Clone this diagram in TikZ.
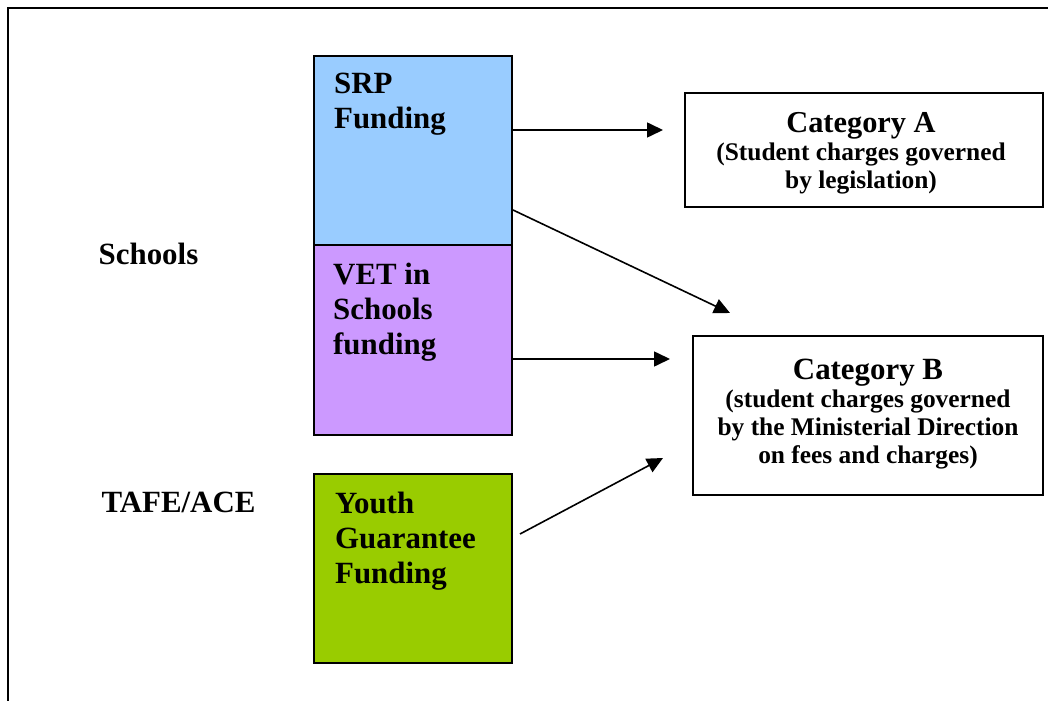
\documentclass[tikz,border=0pt]{standalone}
\usepackage{fontspec}
\setmainfont{Liberation Serif}
\usetikzlibrary{arrows.meta,calc}
\definecolor{srpblue}{RGB}{153,204,255}
\definecolor{vetpurple}{RGB}{204,153,255}
\definecolor{ytggreen}{RGB}{153,204,0}
\tikzset{
  fundbox/.style={draw=black, line width=2bp, inner sep=0pt, anchor=north west},
  catbox/.style={draw=black, line width=1.6bp, fill=white, inner sep=0pt},
  cattext/.style={inner sep=0pt, align=center},
  bigtext/.style={inner sep=0pt, anchor=north west, align=left,
    font=\bfseries\fontsize{31}{35.5}\selectfont},
  sidetext/.style={inner sep=0pt, anchor=base, font=\bfseries\fontsize{31}{36}\selectfont},
  arr/.style={line width=1.6bp, -{Triangle[length=16bp,width=15bp]}}
}
\begin{document}
\begin{tikzpicture}[x=1bp,y=-1bp]
\useasboundingbox (0,0) rectangle (1048,701);
% frame
\coordinate (frameBL) at (8,701);
\coordinate (frameTL) at (8,8);
\coordinate (frameTR) at (1048,8);
\draw[line width=2bp] (frameBL) -- (frameTL) -- (frameTR);
% funding boxes
\node[fundbox, fill=srpblue, minimum width=198bp, minimum height=189bp] (srp) at (313,55) {};
\node[fundbox, fill=vetpurple, minimum width=198bp, minimum height=190bp] (vet) at (313,244) {};
\node[fundbox, fill=ytggreen, minimum width=198bp, minimum height=189bp] (ytg) at (313,473) {};
\node[bigtext] (srptxt) at (334,72.5) {SRP\\Funding};
\node[bigtext] (vettxt) at (333,262.5) {VET in\\Schools\\funding};
\node[bigtext] (ytgtxt) at (335,491.5) {Youth\\Guarantee\\Funding};
% side labels
\node[sidetext] (schools) at (148.5,264) {Schools};
\node[sidetext] (tafe) at (178.5,512) {TAFE/ACE};
% categories
\node[catbox, minimum width=358bp, minimum height=114bp] (catA) at (864,150) {};
\node[cattext, font=\bfseries\fontsize{25.5}{28}\selectfont] (catAtxt) at ($(catA.center)+(-3,3.5)$)
  {{\fontsize{30.5}{28}\selectfont Category A}\\(Student charges governed\\by legislation)};
\node[catbox, minimum width=350bp, minimum height=159bp] (catB) at (868,415.5) {};
\node[cattext, font=\bfseries\fontsize{25.5}{28}\selectfont] (catBtxt) at ($(catB.center)+(0,-1.5)$)
  {{\fontsize{31}{28}\selectfont Category B}\\(student charges governed\\by the Ministerial Direction\\on fees and charges)};
% arrow ends
\coordinate (a1e) at (663,130);
\coordinate (a2e) at (730,313);
\coordinate (a3e) at (670,359);
\coordinate (a4e) at (663,458);
\draw[arr] (srp.east |- a1e) -- (a1e);
\draw[arr] ($(srp.south east)+(0,-36)$) -- (a2e);
\draw[arr] (vet.east |- a3e) -- (a3e);
\draw[arr] ($(ytg.east)+(7,-34.5)$) -- (a4e);
\end{tikzpicture}
\end{document}
